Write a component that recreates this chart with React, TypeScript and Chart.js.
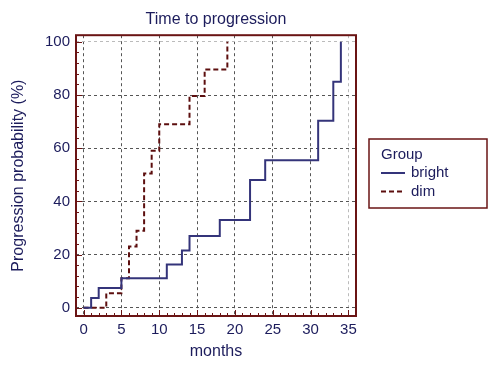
import React, { useEffect, useRef } from "react";
import { Chart, registerables } from "chart.js";

Chart.register(...registerables);

const chartTitle = "Time to progression";
const xTitle = "months";
const yTitle = "Progression probability (%)";
const legendTitle = "Group";

const xTicks = [0, 5, 10, 15, 20, 25, 30, 35];
const yTicks = [0, 20, 40, 60, 80, 100];

const brightMonths = [0, 1, 2, 5, 11, 13, 14, 18, 22, 24, 31, 33, 34];
const brightValues = [0, 3.7, 7.4, 11.1, 16.3, 21.5, 27, 33, 48, 55.5, 70.3, 85, 100];

const dimMonths = [0, 3, 5, 6, 7, 8, 9, 10, 14, 16, 19];
const dimValues = [0, 5.5, 11.1, 23, 29, 50.5, 59, 69, 79.6, 89.6, 100];

const seriesNames = ["bright", "dim"];

const TEXT = "#1c1c5c";
const FRAME = "#6a1414";
const BRIGHT = "#34347a";
const DIM = "#5c0e0e";
const FONT = "Arial, 'Liberation Sans', sans-serif";

const framePlugin = {
  id: "frameAndLegend",
  afterDraw(chart: any) {
    const { ctx, chartArea } = chart;
    const xs = chart.scales.x;
    const ys = chart.scales.y;
    ctx.save();
    ctx.strokeStyle = FRAME;
    ctx.lineWidth = 1;
    ctx.beginPath();
    for (let v = -3; v <= 102; v++) {
      if (v % 4 !== 0 && v % 20 !== 0) continue;
      const py = Math.round(ys.getPixelForValue(v)) + 0.5;
      if (py < chartArea.top || py > chartArea.bottom) continue;
      const len = v % 20 === 0 ? 6 : 3;
      ctx.moveTo(chartArea.left, py);
      ctx.lineTo(chartArea.left + len, py);
    }
    for (let v = 0; v <= 36; v++) {
      const px = Math.round(xs.getPixelForValue(v)) + 0.5;
      const len = v % 5 === 0 ? 6 : 3;
      ctx.moveTo(px, chartArea.bottom);
      ctx.lineTo(px, chartArea.bottom - len);
    }
    ctx.stroke();
    ctx.lineWidth = 2;
    ctx.strokeRect(chartArea.left, chartArea.top, chartArea.right - chartArea.left, chartArea.bottom - chartArea.top);

    const bx = 369, by = 139, bw = 118, bh = 69;
    ctx.lineWidth = 1.5;
    ctx.strokeStyle = FRAME;
    ctx.strokeRect(bx, by, bw, bh);
    ctx.fillStyle = TEXT;
    ctx.font = `15px ${FONT}`;
    ctx.textBaseline = "middle";
    ctx.textAlign = "left";
    ctx.fillText(legendTitle, bx + 12, by + 16);
    const items = [
      { name: seriesNames[0], color: BRIGHT, dash: [] as number[] },
      { name: seriesNames[1], color: DIM, dash: [5, 3] },
    ];
    items.forEach((it, i) => {
      const y = by + 34 + i * 18.5;
      ctx.strokeStyle = it.color;
      ctx.lineWidth = 2;
      ctx.setLineDash(it.dash);
      ctx.beginPath();
      ctx.moveTo(bx + 12, y);
      ctx.lineTo(bx + 36, y);
      ctx.stroke();
      ctx.setLineDash([]);
      ctx.fillStyle = TEXT;
      ctx.fillText(it.name, bx + 42, y);
    });
    ctx.restore();
  },
};

export default function App() {
  const ref = useRef<HTMLCanvasElement>(null);
  useEffect(() => {
    if (!ref.current) return;
    const chart = new Chart(ref.current, {
      type: "line",
      data: {
        datasets: [
          {
            label: seriesNames[0],
            data: brightMonths.map((m, i) => ({ x: m, y: brightValues[i] })),
            borderColor: BRIGHT,
            borderWidth: 2,
            stepped: "before",
            pointRadius: 0,
            fill: false,
          },
          {
            label: seriesNames[1],
            data: dimMonths.map((m, i) => ({ x: m, y: dimValues[i] })),
            borderColor: DIM,
            borderWidth: 2,
            borderDash: [5, 3],
            stepped: "before",
            pointRadius: 0,
            fill: false,
          },
        ],
      },
      options: {
        animation: false,
        responsive: false,
        layout: { padding: { top: 0, right: 144, left: 0, bottom: 0 } },
        plugins: {
          legend: { display: false },
          tooltip: { enabled: false },
          title: {
            display: true,
            text: chartTitle,
            fullSize: false,
            color: TEXT,
            font: { family: FONT, size: 16, weight: "normal" },
            padding: { top: 10, bottom: 6 },
          },
        },
        scales: {
          x: {
            type: "linear",
            min: -1,
            max: 36,
            afterBuildTicks: (s: any) => {
              s.ticks = xTicks.map((v) => ({ value: v }));
            },
            afterFit: (s: any) => {
              s.height = 59;
            },
            ticks: {
              color: TEXT,
              font: { family: FONT, size: 15 },
              padding: 5,
              maxRotation: 0,
              autoSkip: false,
            },
            grid: {
              drawTicks: false,
              color: (c: any) => (c.tick && c.tick.value === 35 ? "#bbbbbb" : "#555555"),
              lineWidth: 1,
            },
            border: { display: false, dash: [3, 3] },
            title: {
              display: true,
              text: xTitle,
              color: TEXT,
              font: { family: FONT, size: 16 },
              padding: { top: 14, bottom: 14 },
            },
          },
          y: {
            type: "linear",
            min: -3.1,
            max: 102.5,
            afterBuildTicks: (s: any) => {
              s.ticks = yTicks.map((v) => ({ value: v }));
            },
            afterFit: (s: any) => {
              s.width = 76;
            },
            ticks: {
              color: TEXT,
              font: { family: FONT, size: 15 },
              padding: 6,
            },
            grid: {
              drawTicks: false,
              color: (c: any) => (c.tick && c.tick.value === 100 ? "#bbbbbb" : "#555555"),
              lineWidth: 1,
            },
            border: { display: false, dash: [3, 3] },
            title: {
              display: true,
              text: yTitle,
              color: TEXT,
              font: { family: FONT, size: 16 },
              padding: { top: 9, bottom: 9 },
            },
          },
        },
      },
      plugins: [framePlugin],
    } as any);
    return () => chart.destroy();
  }, []);
  return (
    <div style={{ position: "fixed", left: 0, top: 0, width: 500, height: 375, background: "#ffffff" }}>
      <canvas ref={ref} width={500} height={375} style={{ width: 500, height: 375, display: "block" }} />
    </div>
  );
}
